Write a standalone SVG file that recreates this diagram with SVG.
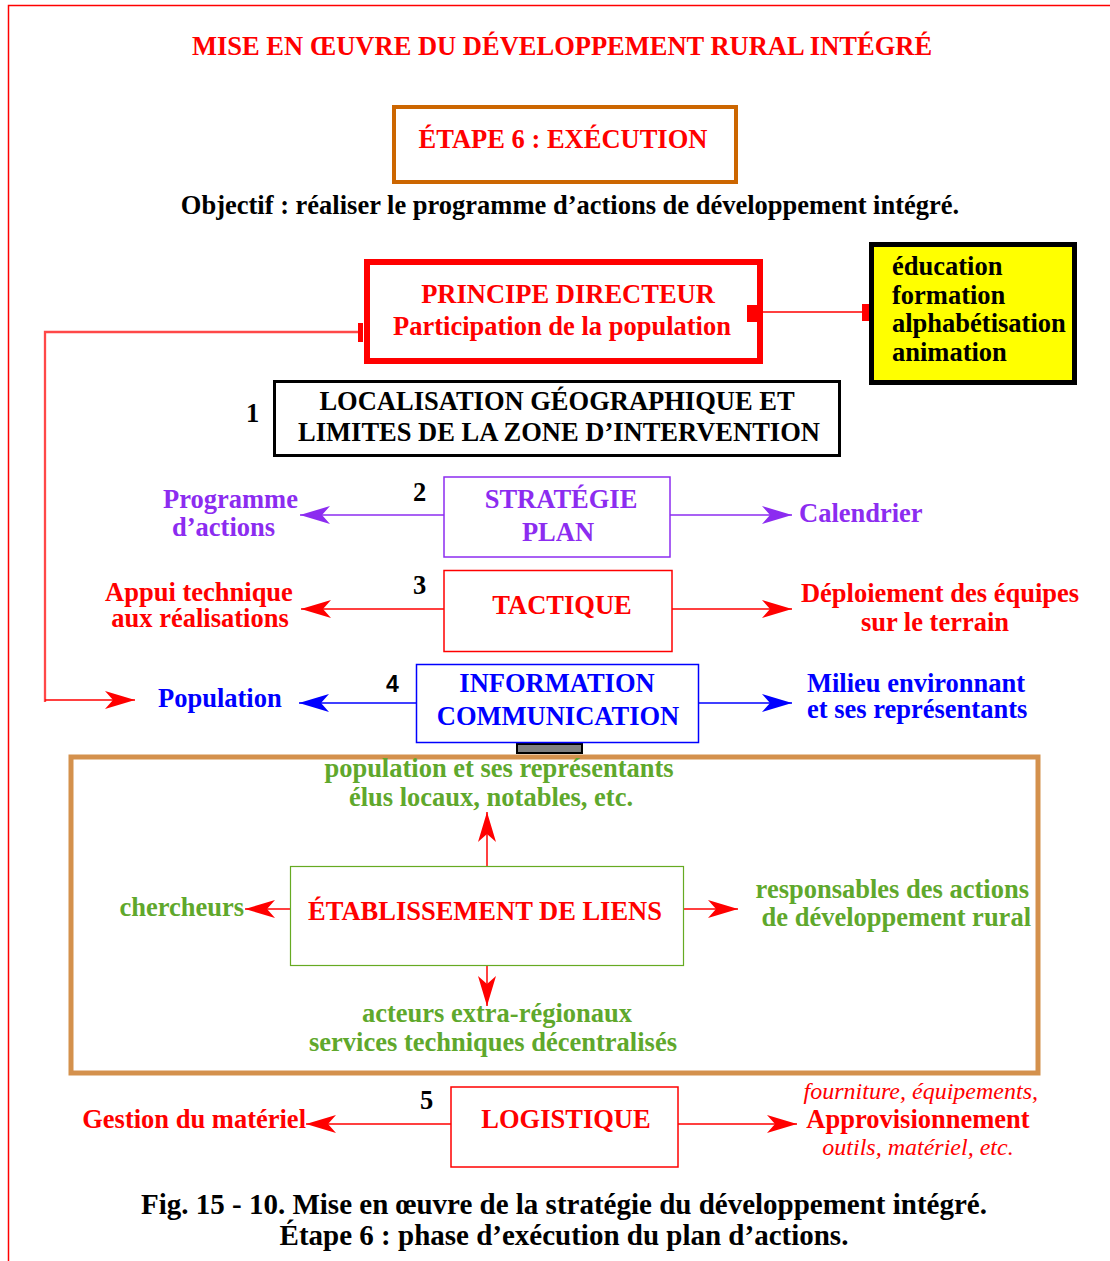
<svg xmlns="http://www.w3.org/2000/svg" width="1110" height="1261" viewBox="0 0 1110 1261">
<style>
text{font-family:"Liberation Serif","Times New Roman",serif;font-weight:bold;font-size:26.5px}
.red{fill:#FF0000}.blk{fill:#000}.pur{fill:#8C2CF0}.blu{fill:#0000FF}.grn{fill:#5FA82C}
.it{font-style:italic;font-weight:normal;font-size:24px}
.cap{font-size:29px}
.num{font-family:"Liberation Sans",Arial,sans-serif;font-size:23px}
.mid{text-anchor:middle}.end{text-anchor:end}
</style>
<defs>
<marker id="aR" viewBox="0 -10 32 20" refX="30" refY="0" markerWidth="32" markerHeight="20" markerUnits="userSpaceOnUse" orient="auto"><path d="M0,-9 L30,0 L0,9 L8,0 Z" fill="#FF0000"/></marker>
<marker id="aP" viewBox="0 -10 32 20" refX="30" refY="0" markerWidth="32" markerHeight="20" markerUnits="userSpaceOnUse" orient="auto"><path d="M0,-9 L30,0 L0,9 L8,0 Z" fill="#8C2CF0"/></marker>
<marker id="aB" viewBox="0 -10 32 20" refX="30" refY="0" markerWidth="32" markerHeight="20" markerUnits="userSpaceOnUse" orient="auto"><path d="M0,-9 L30,0 L0,9 L8,0 Z" fill="#0000FF"/></marker>
</defs>
<rect width="1110" height="1261" fill="#fff"/>
<g id="frame" stroke="#FF0000" stroke-width="1.5" fill="none">
<path d="M8.5,1261 V5.5 H1110"/>
</g>
<text class="red mid" x="562" y="55">MISE EN ŒUVRE DU DÉVELOPPEMENT RURAL INTÉGRÉ</text>
<g id="etape">
<rect x="394" y="107" width="342" height="75" fill="none" stroke="#CC6600" stroke-width="4"/>
<text class="red mid" x="563" y="148">ÉTAPE 6 : EXÉCUTION</text>
</g>
<text class="blk mid" x="570" y="214">Objectif : réaliser le programme d’actions de développement intégré.</text>
<g id="connectors" fill="none">
<path d="M360,332 H45 V702" stroke="#FF4848" stroke-width="2.3"/>
<rect x="358" y="323" width="5" height="19" fill="#FF0000" stroke="none"/>
<line x1="45" y1="700" x2="135" y2="700" stroke="#FF0000" stroke-width="1.5" marker-end="url(#aR)"/>
<line x1="763" y1="312" x2="862" y2="312" stroke="#FF0000" stroke-width="1.5"/>
<rect x="747" y="305" width="16" height="17" fill="#FF0000" stroke="none"/>
<rect x="862" y="304" width="16" height="17" fill="#FF0000" stroke="none"/>
<line x1="444" y1="515" x2="300" y2="515" stroke="#8C2CF0" stroke-width="1.5" marker-end="url(#aP)"/>
<line x1="670" y1="515" x2="792" y2="515" stroke="#8C2CF0" stroke-width="1.5" marker-end="url(#aP)"/>
<line x1="444" y1="609" x2="301" y2="609" stroke="#FF0000" stroke-width="1.5" marker-end="url(#aR)"/>
<line x1="672" y1="609" x2="792" y2="609" stroke="#FF0000" stroke-width="1.5" marker-end="url(#aR)"/>
<line x1="416" y1="703" x2="299" y2="703" stroke="#0000FF" stroke-width="1.5" marker-end="url(#aB)"/>
<line x1="698" y1="703" x2="792" y2="703" stroke="#0000FF" stroke-width="1.5" marker-end="url(#aB)"/>
<rect x="517" y="744" width="65" height="9" fill="#808080" stroke="#000" stroke-width="2"/>
<line x1="487" y1="866" x2="487" y2="812" stroke="#FF0000" stroke-width="1.5" marker-end="url(#aR)"/>
<line x1="487" y1="965" x2="487" y2="1006" stroke="#FF0000" stroke-width="1.5" marker-end="url(#aR)"/>
<line x1="290" y1="909" x2="245" y2="909" stroke="#FF0000" stroke-width="1.5" marker-end="url(#aR)"/>
<line x1="683" y1="909" x2="738" y2="909" stroke="#FF0000" stroke-width="1.5" marker-end="url(#aR)"/>
<line x1="451" y1="1124" x2="306" y2="1124" stroke="#FF0000" stroke-width="1.5" marker-end="url(#aR)"/>
<line x1="678" y1="1124" x2="797" y2="1124" stroke="#FF0000" stroke-width="1.5" marker-end="url(#aR)"/>
</g>
<g id="principe">
<rect x="367" y="262" width="393" height="99" fill="none" stroke="#FF0000" stroke-width="6"/>
<text class="red mid" x="568" y="303">PRINCIPE DIRECTEUR</text>
<text class="red mid" x="562" y="335">Participation de la population</text>
</g>
<g id="moyens">
<rect x="871.5" y="244.5" width="203" height="138" fill="#FFFF00" stroke="#000" stroke-width="5"/>
<text class="blk" x="892" y="275">éducation</text>
<text class="blk" x="892" y="304">formation</text>
<text class="blk" x="892" y="332">alphabétisation</text>
<text class="blk" x="892" y="361">animation</text>
</g>
<g id="n1">
<text class="blk" x="246" y="422">1</text>
<rect x="274.5" y="381.5" width="565" height="74" fill="none" stroke="#000" stroke-width="3"/>
<text class="blk mid" x="557" y="410">LOCALISATION GÉOGRAPHIQUE ET</text>
<text class="blk mid" x="559" y="441">LIMITES DE LA ZONE D’INTERVENTION</text>
</g>
<g id="n2">
<text class="blk" x="413" y="501">2</text>
<rect x="444" y="477" width="226" height="80" fill="none" stroke="#8C2CF0" stroke-width="1.5"/>
<text class="pur mid" x="561" y="508">STRATÉGIE</text>
<text class="pur mid" x="558" y="541">PLAN</text>
</g>
<text class="pur" x="163" y="508">Programme</text>
<text class="pur" x="172" y="536">d’actions</text>
<text class="pur" x="799" y="522">Calendrier</text>
<g id="n3">
<text class="blk" x="413" y="594">3</text>
<rect x="444" y="570.5" width="228" height="81" fill="none" stroke="#FF0000" stroke-width="1.5"/>
<text class="red mid" x="562" y="614">TACTIQUE</text>
</g>
<text class="red mid" x="199" y="601">Appui technique</text>
<text class="red mid" x="200" y="627">aux réalisations</text>
<text class="red mid" x="940" y="602">Déploiement des équipes</text>
<text class="red mid" x="935" y="631">sur le terrain</text>
<g id="n4">
<text class="blk num" x="386" y="692">4</text>
<rect x="416.5" y="664.5" width="282" height="78" fill="none" stroke="#0000FF" stroke-width="1.5"/>
<text class="blu mid" x="557" y="692">INFORMATION</text>
<text class="blu mid" x="558" y="725">COMMUNICATION</text>
</g>
<text class="blu" x="158" y="707">Population</text>
<text class="blu" x="807" y="692">Milieu environnant</text>
<text class="blu" x="807" y="718">et ses représentants</text>
<g id="liens-cadre">
<rect x="71" y="757" width="967" height="316" fill="none" stroke="#D4914D" stroke-width="5"/>
</g>
<text class="grn mid" x="499" y="777">population et ses représentants</text>
<text class="grn mid" x="491" y="806">élus locaux, notables, etc.</text>
<g id="liens">
<rect x="290.5" y="866.5" width="393" height="99" fill="none" stroke="#66AA22" stroke-width="1.2"/>
<text class="red mid" x="485" y="920">ÉTABLISSEMENT DE LIENS</text>
</g>
<text class="grn end" x="244" y="916">chercheurs</text>
<text class="grn end" x="1029" y="898">responsables des actions</text>
<text class="grn end" x="1031" y="926">de développement rural</text>
<text class="grn mid" x="497" y="1022">acteurs extra-régionaux</text>
<text class="grn mid" x="493" y="1051">services techniques décentralisés</text>
<g id="n5">
<text class="blk" x="420" y="1109">5</text>
<rect x="451" y="1087" width="227" height="80" fill="none" stroke="#FF0000" stroke-width="1.5"/>
<text class="red mid" x="566" y="1128">LOGISTIQUE</text>
</g>
<text class="red end" x="306" y="1128">Gestion du matériel</text>
<text class="red it end" x="1038" y="1099">fourniture, équipements,</text>
<text class="red mid" x="918" y="1128">Approvisionnement</text>
<text class="red it mid" x="918" y="1155">outils, matériel, etc.</text>
<text class="blk cap mid" x="564" y="1214">Fig. 15 - 10. Mise en œuvre de la stratégie du développement intégré.</text>
<text class="blk cap mid" x="564" y="1245">Étape 6 : phase d’exécution du plan d’actions.</text>
</svg>
